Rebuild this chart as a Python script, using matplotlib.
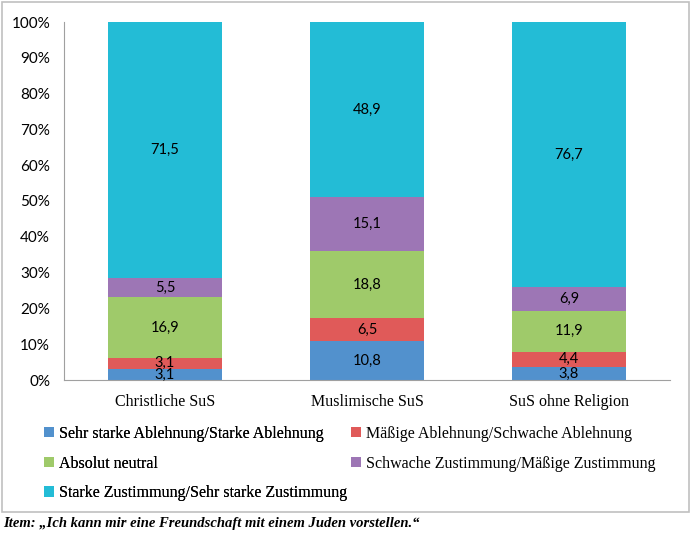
import matplotlib.pyplot as plt
from matplotlib.patches import Rectangle
import numpy as np

gruppen = ['Christliche SuS', 'Muslimische SuS', 'SuS ohne Religion']
kategorien = ['Sehr starke Ablehnung/Starke Ablehnung',
              'Mäßige Ablehnung/Schwache Ablehnung',
              'Absolut neutral',
              'Schwache Zustimmung/Mäßige Zustimmung',
              'Starke Zustimmung/Sehr starke Zustimmung']
werte = {
    'Christliche SuS': [3.1, 3.1, 16.9, 5.5, 71.5],
    'Muslimische SuS': [10.8, 6.5, 18.8, 15.1, 48.9],
    'SuS ohne Religion': [3.8, 4.4, 11.9, 6.9, 76.7],
}
farben = ['#5291cd', '#e05a59', '#9fca6a', '#9d76b5', '#23bcd6']

fig = plt.figure(figsize=(6.92, 5.35), dpi=100)
ax = fig.add_axes([64/692, 1-380/535, 606/692, 358/535])

x = np.arange(len(gruppen))
daten = np.array([werte[g] for g in gruppen])
anteile = daten / daten.sum(axis=1, keepdims=True) * 100
unten = np.zeros(len(gruppen))
handles = []
for i, kat in enumerate(kategorien):
    b = ax.bar(x, anteile[:, i], bottom=unten, width=0.565, color=farben[i], label=kat)
    handles.append(b)
    for j in range(len(gruppen)):
        ax.text(x[j], unten[j] + anteile[j, i] / 2, f'{daten[j, i]:.1f}'.replace('.', ','),
                ha='center', va='center', fontsize=10.5, family='Lato')
    unten += anteile[:, i]

ax.set_xlim(-0.5, 2.5)
ax.set_ylim(0, 100)
ax.set_yticks(range(0, 101, 10))
ax.set_yticklabels([f'{v}%' for v in range(0, 101, 10)], family='Lato', fontsize=11)
ax.set_xticks(x)
ax.set_xticklabels(gruppen, family='Liberation Serif', fontsize=11.5)
ax.tick_params(length=0)
ax.tick_params(axis='y', pad=10)
ax.tick_params(axis='x', pad=10)
for s in ['top', 'right']:
    ax.spines[s].set_visible(False)
for s in ['left', 'bottom']:
    ax.spines[s].set_color('#a0a0a0')

# Legende in zwei Spalten, getrennt gesetzt
leg_opts = dict(loc='upper left', frameon=False, handlelength=0.6, handleheight=0.6,
                handletextpad=0.35, labelspacing=0.85, borderaxespad=0, borderpad=0,
                prop={'family': 'Liberation Serif', 'size': 11.5})
leg1 = fig.legend([handles[k] for k in [0, 2, 4]], [kategorien[k] for k in [0, 2, 4]],
                  bbox_to_anchor=(44/692, 1-426/535), **leg_opts)
fig.add_artist(leg1)
fig.legend([handles[k] for k in [1, 3]], [kategorien[k] for k in [1, 3]],
           bbox_to_anchor=(351/692, 1-426/535), **leg_opts)

fig.patches.append(Rectangle((2/692, 1-512/535), 687/692, 510/535, transform=fig.transFigure,
                             fill=False, edgecolor='#c0c0c0', linewidth=1.2))
fig.text(3/692, 1-523/535, 'Item: \u201eIch kann mir eine Freundschaft mit einem Juden vorstellen.\u201c',
         family='Liberation Serif', weight='bold', style='italic', fontsize=10.5, va='center')

fig.savefig('out.png', dpi=100)
